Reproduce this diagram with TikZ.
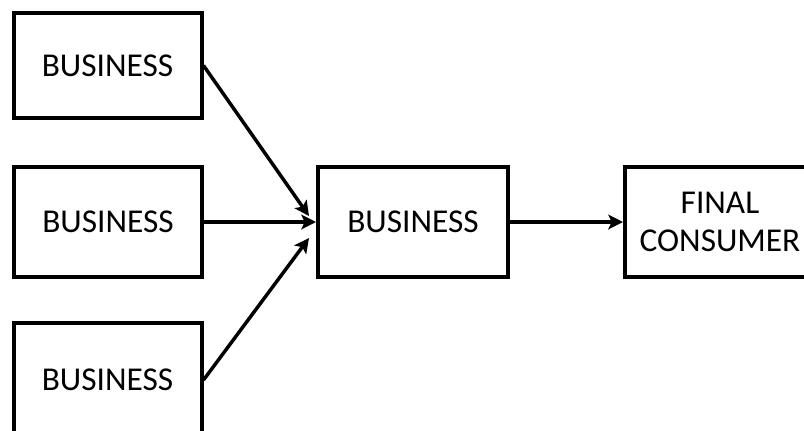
\documentclass[tikz,border=0pt]{standalone}
\usepackage{fontspec}
\setmainfont{Carlito}
\usetikzlibrary{arrows.meta}

\begin{document}
\begin{tikzpicture}[x=0.75pt, y=-0.75pt,
        box/.style={draw=black, line width=3pt, minimum width=141pt, minimum height=82.5pt,
                    inner sep=0pt, align=center, font=\fontsize{25}{29}\selectfont},
        link/.style={line width=2.6pt, -{Stealth[length=11pt, width=11pt, inset=2.5pt]}}]
        \useasboundingbox (0,0) rectangle (804,430);
        \clip (0,0) rectangle (804,430);

        \node[box, minimum height=79pt] (top) at (107.5,65.5) {BUSINESS};
        \node[box] (mid) at (108,222) {BUSINESS};
        \node[box, minimum height=85pt] (bot) at (107.5,380) {BUSINESS};
        \node[box, minimum width=142.5pt] (hub) at (413,222) {BUSINESS};
        \node[box, minimum width=142.5pt] (final) at (720,222) {FINAL\\CONSUMER};

        \coordinate (hubtop) at ([shift={(-7,-6)}]hub.west);
        \coordinate (hubbot) at ([shift={(-7,16)}]hub.west);

        \draw[link] (top.east) -- (hubtop);
        \draw[link] (mid.east) -- (hub.west);
        \draw[link] (bot.east) -- (hubbot);
        \draw[link] (hub.east) -- (final.west);

    \end{tikzpicture}
\end{document}
